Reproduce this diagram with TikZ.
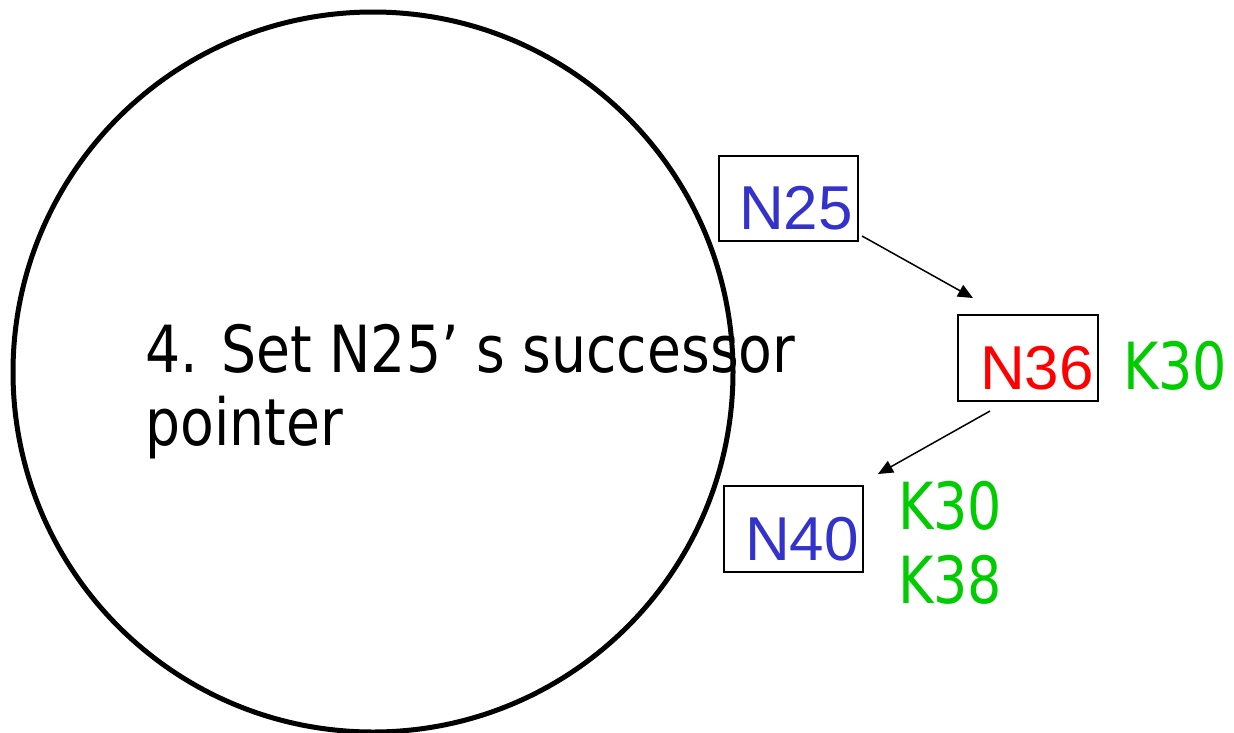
\documentclass[tikz,border=0pt]{standalone}
\usepackage{fontspec}
\setmainfont{Liberation Sans}
\newfontfamily\narrowsans[FakeStretch=0.85]{DejaVu Sans}
\newfontfamily\keysans[FakeStretch=0.83]{DejaVu Sans}
\usetikzlibrary{arrows.meta}
\definecolor{nodeblue}{HTML}{3333CC}
\definecolor{nodered}{HTML}{FF0000}
\definecolor{keygreen}{HTML}{00CC00}
\begin{document}
\begin{tikzpicture}[x=1pt,y=-1pt,
  ring/.style={draw=black, line width=5pt},
  nodebox/.style={draw=black, line width=1.5pt, inner sep=0pt, anchor=north west},
  nodename/.style={anchor=base west, inner sep=0pt, font=\fontsize{62}{70}\selectfont},
  keyname/.style={anchor=base west, inner sep=0pt, text=keygreen, font=\keysans\fontsize{65}{70}\selectfont},
  caption/.style={anchor=base west, inner sep=0pt, font=\narrowsans\fontsize{65}{73}\selectfont},
  link/.style={draw=black, line width=1.5pt, -{Triangle[length=15pt,width=13pt]}}]
\useasboundingbox (0,0) rectangle (1234,732);

% the ring
\draw[ring] (373,372) circle[radius=360];

% caption inside the ring
\node[caption] (cap1) at (145,372) {4. Set N25’ s successor};
\node[caption] (cap2) at (145,445) {pointer};

% node boxes
\node[nodebox, minimum width=139pt, minimum height=85pt] (b25) at (718,155) {};
\node[nodebox, minimum width=140pt, minimum height=86pt] (b36) at (957,314) {};
\node[nodebox, minimum width=139pt, minimum height=86pt] (b40) at (723,485) {};

% node names
\node[nodename, text=nodeblue] (t25) at (739,229) {N25};
\node[nodename, text=nodered] (t36) at (980,389) {N36};
\node[nodename, text=nodeblue] (t40) at (745,560) {N40};

% keys
\node[keyname] (k30a) at (1123,389) {K30};
\node[keyname] (k30b) at (898,529) {K30};
\node[keyname] (k38) at (898,603) {K38};

% successor pointers
\coordinate (p1s) at (862,236);
\coordinate (p1e) at (973,298);
\coordinate (p2s) at (990,411);
\coordinate (p2e) at (878,474);
\draw[link] (p1s) -- (p1e);
\draw[link] (p2s) -- (p2e);
\end{tikzpicture}
\end{document}
